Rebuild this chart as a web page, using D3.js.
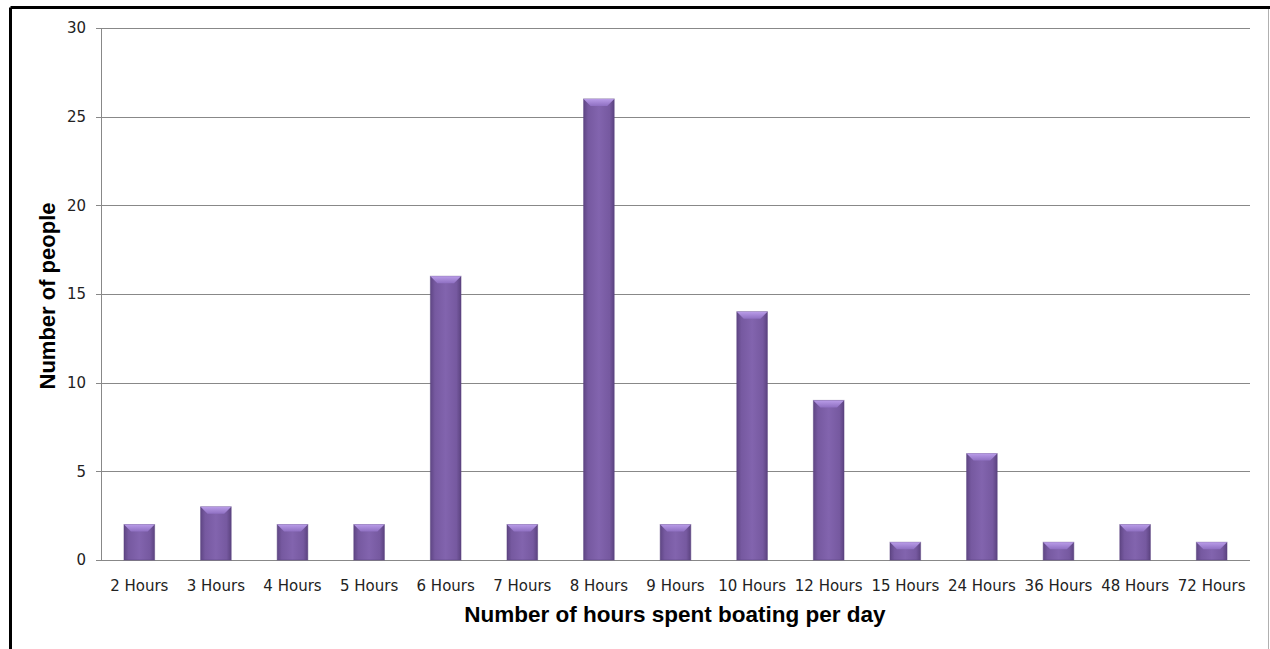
<!DOCTYPE html>
<html>
<head>
<meta charset="utf-8">
<script src="https://cdn.jsdelivr.net/npm/d3@7"></script>
<style>
body { margin: 0; background: #fff; }
</style>
</head>
<body>
<div id="canvas"></div>
<script>
"use strict"

let svgWidth = 1270
let svgHeight = 649

/*Chart data*/
let categories = ["2 Hours", "3 Hours", "4 Hours", "5 Hours", "6 Hours", "7 Hours", "8 Hours",
    "9 Hours", "10 Hours", "12 Hours", "15 Hours", "24 Hours", "36 Hours", "48 Hours", "72 Hours"]
let people = [2, 3, 2, 2, 16, 2, 26, 2, 14, 9, 1, 6, 1, 2, 1]
let yTicks = [0, 5, 10, 15, 20, 25, 30]

let plot = { left: 101, right: 1250, top: 28, bottom: 560 }

let svg = d3.select("#canvas")
    .append("svg")
    .attr("width", svgWidth)
    .attr("height", svgHeight)

/*bar gradients*/
let defs = svg.append("defs")
let grad = defs.append("linearGradient").attr("id", "barGrad")
    .attr("x1", "0").attr("x2", "1").attr("y1", "0").attr("y2", "0")
grad.append("stop").attr("offset", "0%").attr("stop-color", "#5f4684")
grad.append("stop").attr("offset", "15%").attr("stop-color", "#7659a0")
grad.append("stop").attr("offset", "50%").attr("stop-color", "#8264ae")
grad.append("stop").attr("offset", "85%").attr("stop-color", "#7659a0")
grad.append("stop").attr("offset", "100%").attr("stop-color", "#5c4380")

let topGrad = defs.append("linearGradient").attr("id", "topGrad")
    .attr("x1", "0").attr("x2", "0").attr("y1", "0").attr("y2", "1")
topGrad.append("stop").attr("offset", "0%").attr("stop-color", "#b99ce8")
topGrad.append("stop").attr("offset", "100%").attr("stop-color", "#8f70c2")

/*outer frame*/
svg.append("line").attr("x1", 10.5).attr("y1", 7.5).attr("x2", 1270).attr("y2", 7.5)
    .attr("stroke", "#000").attr("stroke-width", 3)
svg.append("line").attr("x1", 10.5).attr("y1", 7.5).attr("x2", 10.5).attr("y2", 649)
    .attr("stroke", "#000").attr("stroke-width", 3)
svg.append("line").attr("x1", 1268.5).attr("y1", 9).attr("x2", 1268.5).attr("y2", 649)
    .attr("stroke", "#b0b0b0").attr("stroke-width", 1)

/*scales*/
let xScale = d3.scaleBand()
    .domain(categories)
    .range([plot.left, plot.right])
    .paddingInner(0.6)
    .paddingOuter(0.3)

let yScale = d3.scaleLinear()
    .domain([0, 30])
    .range([plot.bottom, plot.top])

/*gridlines*/
svg.append("g")
    .selectAll("line")
    .data(yTicks)
    .join("line")
    .attr("x1", plot.left - 5)
    .attr("x2", plot.right)
    .attr("y1", d => Math.round(yScale(d)) + 0.5)
    .attr("y2", d => Math.round(yScale(d)) + 0.5)
    .attr("stroke", "#888")
    .attr("stroke-width", 1)

/*y axis line*/
svg.append("line")
    .attr("x1", plot.left + 0.5).attr("x2", plot.left + 0.5)
    .attr("y1", plot.top).attr("y2", plot.bottom)
    .attr("stroke", "#888")

/*y tick labels*/
svg.append("g")
    .selectAll("text")
    .data(yTicks)
    .join("text")
    .attr("x", 86)
    .attr("y", d => yScale(d))
    .attr("dy", "0.35em")
    .attr("text-anchor", "end")
    .style("font-family", "'DejaVu Sans', Verdana, sans-serif")
    .style("font-size", "15px")
    .style("fill", "#222")
    .text(d => d)

/*bars*/
let bars = svg.append("g")
    .selectAll("g")
    .data(categories)
    .join("g")

bars.append("rect")
    .attr("x", d => xScale(d))
    .attr("y", (d, i) => yScale(people[i]))
    .attr("width", xScale.bandwidth())
    .attr("height", (d, i) => yScale(0) - yScale(people[i]))
    .attr("fill", "url(#barGrad)")
    .attr("stroke", "#5a4280")
    .attr("stroke-opacity", 0.5)
    .attr("stroke-width", 1)

/*bevel on top of each bar*/
bars.append("path")
    .attr("d", function (d, i) {
        let x0 = xScale(d)
        let x1 = x0 + xScale.bandwidth()
        let y0 = yScale(people[i])
        let b = 7
        return `M${x0},${y0}L${x1},${y0}L${x1 - b},${y0 + b}L${x0 + b},${y0 + b}Z`
    })
    .attr("fill", "url(#topGrad)")

/*x tick labels*/
svg.append("g")
    .selectAll("text")
    .data(categories)
    .join("text")
    .attr("x", d => xScale(d) + xScale.bandwidth() / 2)
    .attr("y", 591)
    .attr("text-anchor", "middle")
    .style("font-family", "'DejaVu Sans', Verdana, sans-serif")
    .style("font-size", "15px")
    .style("fill", "#222")
    .text(d => d)

/*axis titles*/
svg.append("text")
    .attr("x", 675)
    .attr("y", 622)
    .attr("text-anchor", "middle")
    .style("font-family", "'Liberation Sans', Arial, sans-serif")
    .style("font-size", "22.5px")
    .style("font-weight", "bold")
    .text("Number of hours spent boating per day")

svg.append("text")
    .attr("transform", "translate(55,296) rotate(-90)")
    .attr("text-anchor", "middle")
    .style("font-family", "'Liberation Sans', Arial, sans-serif")
    .style("font-size", "22px")
    .style("font-weight", "bold")
    .text("Number of people")
</script>
</body>
</html>
